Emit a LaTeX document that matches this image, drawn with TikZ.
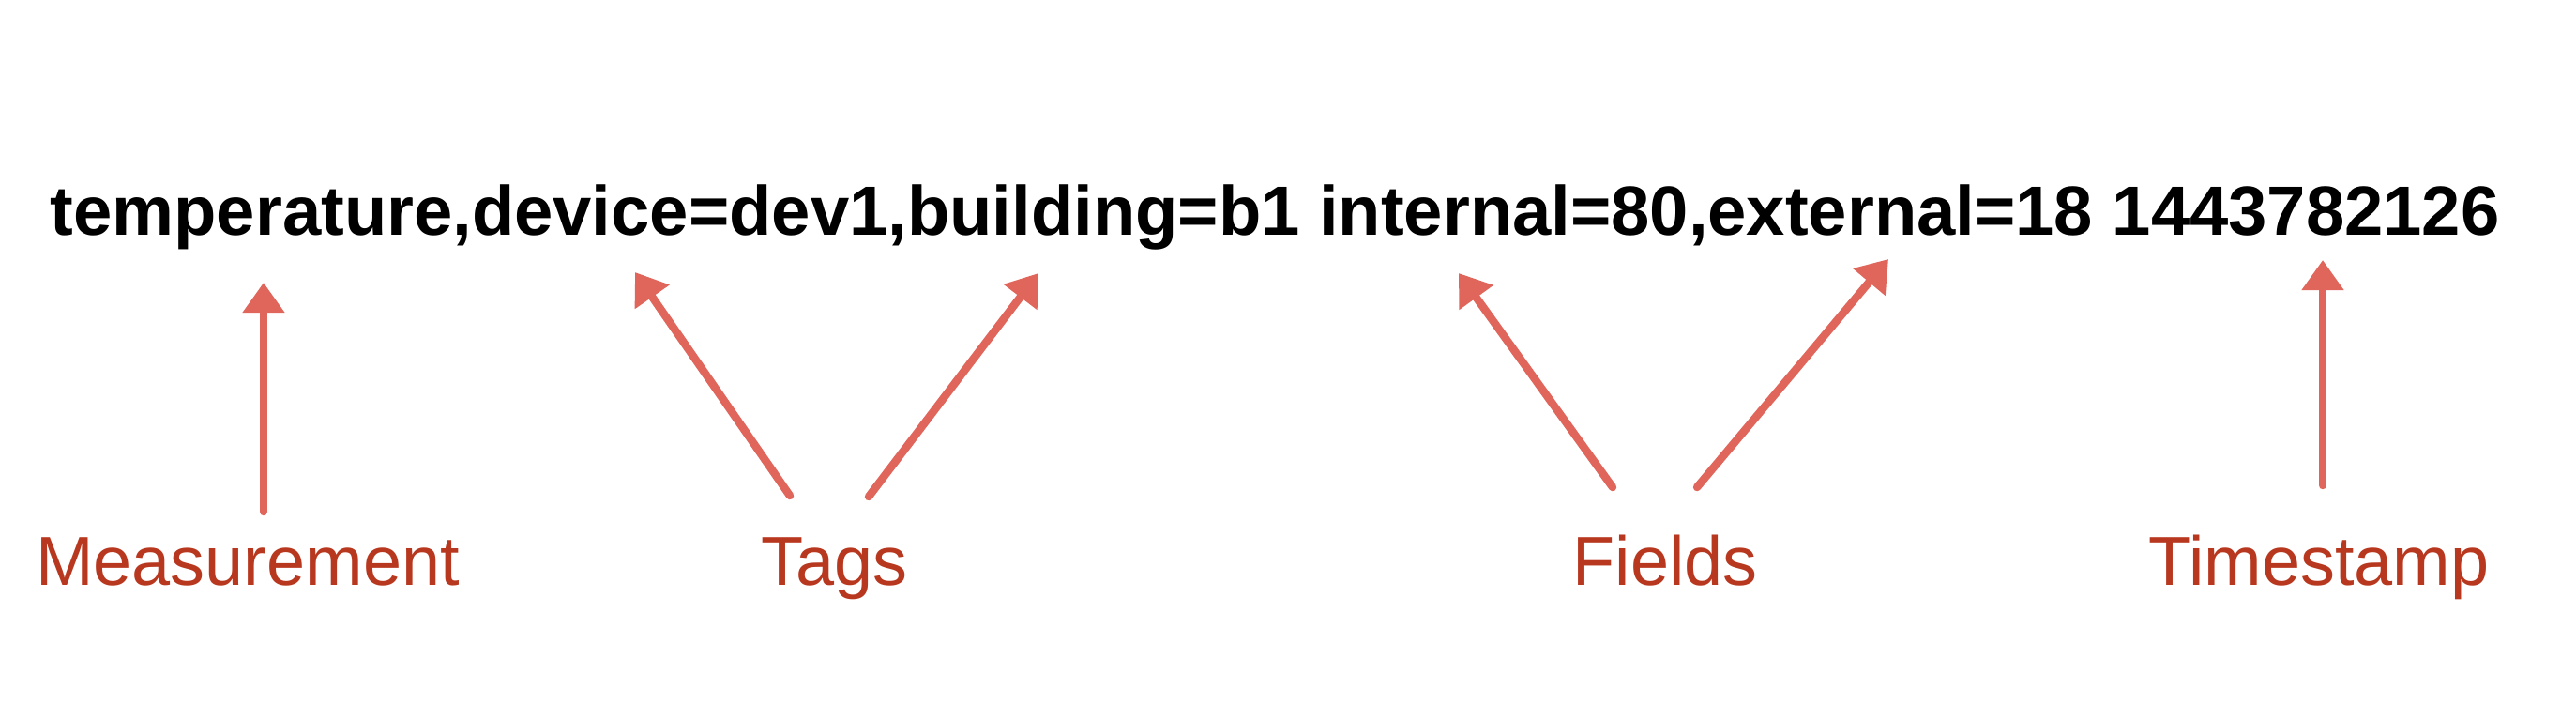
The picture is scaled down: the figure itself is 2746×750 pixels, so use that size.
\documentclass[tikz,border=0pt]{standalone}
\usepackage{fontspec}
\setmainfont{Liberation Sans}
\usetikzlibrary{arrows.meta}
\definecolor{arrowred}{HTML}{E0665C}
\definecolor{labelred}{HTML}{B8381F}

\begin{document}
\begin{tikzpicture}[x=0.01cm, y=-0.01cm,
	pointer/.style={arrowred, line width=2.4pt, line cap=round, -{Triangle[length=0.32cm,width=0.43cm]}},
	part/.style={labelred, anchor=base, inner sep=0pt, font=\fontsize{21}{24}\selectfont}]
	\useasboundingbox (0,0) rectangle (2746,750);
	\node[anchor=base west, inner sep=0pt, font=\fontsize{21.1}{24}\selectfont\bfseries] (line) at (53,250) {temperature,device=dev1,building=b1 internal=80,external=18 1443782126};
	\node[part] (M) at (264,623) {Measurement};
	\node[part] (T) at (889,623) {Tags};
	\node[part] (F) at (1775,623) {Fields};
	\node[part] (S) at (2472,623) {Timestamp};
	\coordinate (M0) at (281,545);
	\coordinate (M1) at (281,301);
	\coordinate (T0) at (842,528);
	\coordinate (T1) at (677,290);
	\coordinate (T2) at (926,529);
	\coordinate (T3) at (1107,291);
	\coordinate (F0) at (1719,519);
	\coordinate (F1) at (1555,291);
	\coordinate (F2) at (1809,519);
	\coordinate (F3) at (2013,276);
	\coordinate (S0) at (2476,517);
	\coordinate (S1) at (2476,277);
	\draw[pointer] (M0) -- (M1);
	\draw[pointer] (T0) -- (T1);
	\draw[pointer] (T2) -- (T3);
	\draw[pointer] (F0) -- (F1);
	\draw[pointer] (F2) -- (F3);
	\draw[pointer] (S0) -- (S1);
\end{tikzpicture}
\end{document}
